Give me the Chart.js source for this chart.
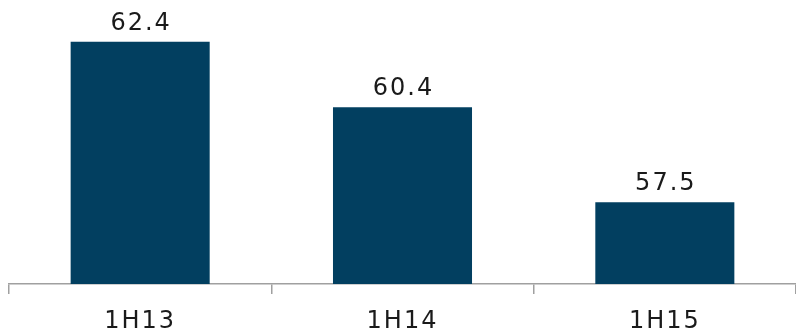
<!DOCTYPE html>
<html>
<head>
<meta charset="utf-8">
<script src="https://cdn.jsdelivr.net/npm/chart.js@4/dist/chart.umd.min.js"></script>
<style>
  html, body { margin: 0; padding: 0; background: #fff; }
</style>
</head>
<body>
<canvas id="myChart" width="796" height="332"></canvas>
<script>
// half-year values
const periods = ['1H13', '1H14', '1H15'];
const values = [62.4, 60.4, 57.5];

const barColor = '#023f60';
const textColor = '#1a1a1a';

// draws the number over each bar
const valueLabels = {
  id: 'valueLabels',
  beforeDraw(chart) {
    chart.ctx.letterSpacing = '2px';
  },
  afterDatasetsDraw(chart) {
    const ctx = chart.ctx;
    const meta = chart.getDatasetMeta(0);
    ctx.save();
    ctx.letterSpacing = '2px';
    ctx.font = '24px "DejaVu Sans"';
    ctx.fillStyle = textColor;
    ctx.textAlign = 'center';
    ctx.textBaseline = 'alphabetic';
    meta.data.forEach((bar, i) => {
      ctx.fillText(values[i].toFixed(1), bar.x + 1, bar.y - 12);
    });
    ctx.restore();
  }
};

new Chart("myChart", {
  type: "bar",
  data: {
    labels: periods,
    datasets: [{
      data: values,
      backgroundColor: barColor,
      barPercentage: 0.53,
      categoryPercentage: 1
    }]
  },
  options: {
    responsive: false,
    animation: false,
    layout: {
      padding: { left: 9, right: 0, top: 22, bottom: 0 }
    },
    plugins: {
      legend: { display: false },
      tooltip: { enabled: false }
    },
    scales: {
      x: {
        afterFit(scale) {
          scale.height = 48;
        },
        grid: {
          drawOnChartArea: false,
          tickLength: 10,
          color: (c) => c.index === periods.length ? 'rgba(0,0,0,0)' : '#a0a0a0',
          lineWidth: 1.5
        },
        border: { color: '#a0a0a0', width: 1.5 },
        ticks: {
          color: textColor,
          padding: 13,
          font: { family: 'DejaVu Sans', size: 24 }
        }
      },
      y: {
        display: false,
        min: 55,
        max: 63
      }
    }
  },
  plugins: [valueLabels]
});
</script>
</body>
</html>
